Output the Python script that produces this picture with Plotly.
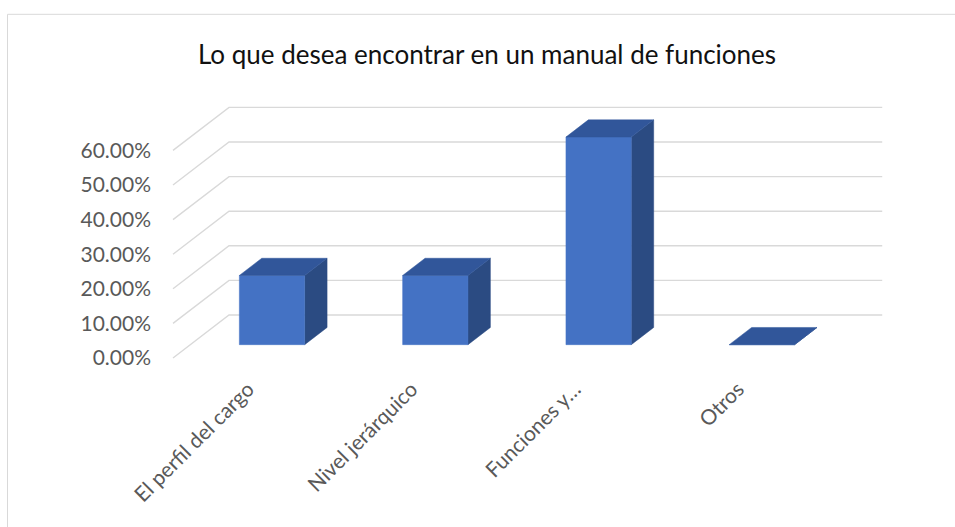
import plotly.graph_objects as go

categories = ["El perfil del cargo", "Nivel jerárquico", "Funciones y…", "Otros"]
values = [20, 20, 60, 0]  # percent
y_ticks = [0, 10, 20, 30, 40, 50, 60]
y_ticktext = ["0.00%", "10.00%", "20.00%", "30.00%", "40.00%", "50.00%", "60.00%"]
title_text = "Lo que desea encontrar en un manual de funciones"

# oblique projection parameters (depth -> x/y shift in data units)
KX = 0.343
KY = 12.43
D0, D1 = 0.31, 0.71      # bar depth span
HALF_W = 0.2             # bar half width in category units
N = len(categories)

FRONT = "#4472C4"
TOP = "#31569A"
SIDE = "#2B4B82"
GRID = "#d9d9d9"

def P(c, v, d):
    return c + KX * d, v + KY * d

fig = go.Figure()

# gridlines: floor-side diagonal + back wall
for v in y_ticks:
    pts = [P(0, v, 0), P(0, v, 1), P(N, v, 1)]
    fig.add_trace(go.Scatter(x=[p[0] for p in pts], y=[p[1] for p in pts],
                             mode="lines", line=dict(color=GRID, width=1.4),
                             hoverinfo="skip", showlegend=False))

def poly(pts, color):
    xs = [p[0] for p in pts] + [pts[0][0]]
    ys = [p[1] for p in pts] + [pts[0][1]]
    fig.add_trace(go.Scatter(x=xs, y=ys, mode="lines", fill="toself",
                             fillcolor=color, line=dict(color=color, width=0.5),
                             hoverinfo="skip", showlegend=False))

for i, v in enumerate(values):
    c0 = i + 0.5 - HALF_W
    c1 = i + 0.5 + HALF_W
    # side face
    poly([P(c1, 0, D0), P(c1, 0, D1), P(c1, v, D1), P(c1, v, D0)], SIDE)
    # front face
    poly([P(c0, 0, D0), P(c1, 0, D0), P(c1, v, D0), P(c0, v, D0)], FRONT)
    # top face
    poly([P(c0, v, D0), P(c1, v, D0), P(c1, v, D1), P(c0, v, D1)], TOP)

L, R, T, B = 160, 55, 90, 155
W, H = 955, 527
px_per_x = 163.3
px_per_y = 3.46
x0_pix, y0_pix = 173, 358
xr = [(L - x0_pix) / px_per_x, (W - R - x0_pix) / px_per_x]
yr = [(y0_pix - (H - B)) / px_per_y, (y0_pix - T) / px_per_y]

pw = W - L - R
ph = H - T - B
bx0 = (7.5 - L) / pw
bx1 = (956 - L) / pw
by1 = ((H - B) - 14.3) / ph
by0 = ((H - B) - 530) / ph

fig.update_layout(
    width=W, height=H,
    margin=dict(l=L, r=R, t=T, b=B),
    paper_bgcolor="white", plot_bgcolor="white",
    font=dict(family="Lato, Open Sans, sans-serif", color="#595959"),
    title=dict(text=title_text, x=487 / W, xref="container", xanchor="center",
               y=1 - 55 / H, yref="container", yanchor="middle",
               font=dict(size=26, color="#111111", family="Lato, Open Sans, sans-serif")),
    xaxis=dict(range=xr, showgrid=False, zeroline=False, showline=False,
               tickmode="array", tickvals=[i + 0.46 for i in range(N)],
               ticktext=categories, tickangle=-45, ticks="",
               tickfont=dict(size=21, color="#595959")),
    yaxis=dict(range=yr, showgrid=False, zeroline=False, showline=False,
               tickmode="array", tickvals=y_ticks, ticktext=y_ticktext, ticks="",
               ticklabelstandoff=8,
               tickfont=dict(size=21, color="#595959")),
    shapes=[dict(type="rect", xref="paper", yref="paper", x0=bx0, x1=bx1, y0=by0, y1=by1,
                 line=dict(color="#d9d9d9", width=1), layer="below")],
    showlegend=False,
)

fig.write_html("out.html")
